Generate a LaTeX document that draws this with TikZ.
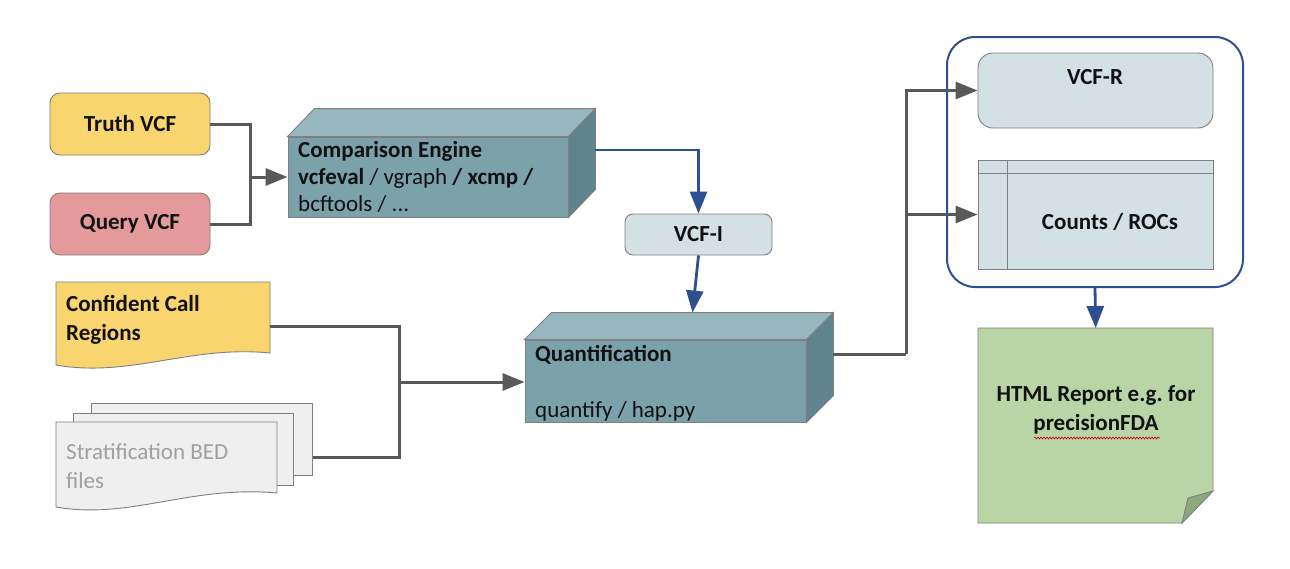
\documentclass[tikz,border=0pt]{standalone}
\usepackage{fontspec}
\setmainfont{Carlito}
\usetikzlibrary{arrows.meta,decorations.pathmorphing}
\definecolor{yel}{HTML}{F8D56F}
\definecolor{pinkq}{HTML}{E4999B}
\definecolor{tealF}{HTML}{7BA2AB}
\definecolor{tealT}{HTML}{97B7BE}
\definecolor{tealR}{HTML}{5F848C}
\definecolor{lightb}{HTML}{D3E0E4}
\definecolor{greenN}{HTML}{B9D5A6}
\definecolor{greenF}{HTML}{8CA97C}
\definecolor{gline}{HTML}{595959}
\definecolor{bline}{HTML}{2F5090}
\definecolor{bord}{HTML}{7F7F7F}
\definecolor{docgray}{HTML}{EFEFEF}
\definecolor{txtgray}{HTML}{A0A0A0}
\definecolor{txtblk}{HTML}{111111}
\begin{document}
\begin{tikzpicture}[x=1pt,y=-1pt,
  every node/.style={inner sep=0pt, text=txtblk},
  big/.style={font=\fontsize{23}{28}\selectfont},
  bigb/.style={font=\fontsize{23}{28}\selectfont\bfseries},
  rbox/.style={draw=bord, line width=0.9pt, rounded corners=10pt},
  face/.style={draw=bord, line width=0.9pt},
  gc/.style={draw=gline, line width=3pt},
  bc/.style={draw=bline, line width=2.8pt},
  gtip/.style={-{Triangle[length=22pt,width=17pt]}},
  ]
\useasboundingbox[fill=white] (0,0) rectangle (1290,568);

% inputs
\node[rbox, fill=yel, minimum width=160, minimum height=62, bigb] (truth) at (130,124) {Truth VCF};
\node[rbox, fill=pinkq, minimum width=160, minimum height=62, bigb] (query) at (130,224) {Query VCF};

% comparison engine box
\node[face, fill=tealF, minimum width=280, minimum height=80] (cmp) at (428,177) {};
\path[face, fill=tealT] (cmp.north west) -- ([shift={(27,-28)}]cmp.north west) -- ([shift={(27,-28)}]cmp.north east) -- (cmp.north east) -- cycle;
\path[face, fill=tealR] (cmp.north east) -- ([shift={(27,-28)}]cmp.north east) -- ([shift={(27,-28)}]cmp.south east) -- (cmp.south east) -- cycle;
\node[anchor=north west, align=left, font=\fontsize{23}{27}\selectfont] (cmpt) at (298,141)
  {\textbf{Comparison Engine}\\\textbf{vcfeval} / vgraph \textbf{/ xcmp /}\\bcftools / ...};
\coordinate (cmpR) at ([shift={(27,-27)}]cmp.east);

% VCF-I
\node[rbox, rounded corners=8pt, fill=lightb, minimum width=147, minimum height=41, bigb] (vcfi) at (698.5,234.5) {VCF-I};

% quantification box
\node[face, fill=tealF, minimum width=281, minimum height=82] (quant) at (665.5,381) {};
\path[face, fill=tealT] (quant.north west) -- ([shift={(27,-27)}]quant.north west) -- ([shift={(27,-27)}]quant.north east) -- (quant.north east) -- cycle;
\path[face, fill=tealR] (quant.north east) -- ([shift={(27,-27)}]quant.north east) -- ([shift={(27,-27)}]quant.south east) -- (quant.south east) -- cycle;
\node[anchor=north west, align=left, font=\fontsize{23}{28}\selectfont] (quantt) at (535,345)
  {\textbf{Quantification}\\[28pt]quantify / hap.py};
\coordinate (quantTop) at ([shift={(27,-27)}]quant.north);
\coordinate (quantR) at ([shift={(27,-27)}]quant.east);

% confident call regions (document shape)
\node[minimum width=214, minimum height=88, anchor=north west] (conf) at (56,282) {};
\path[face, fill=yel] (56,282) -- (270,282) -- (270,353) .. controls (190,345) and (130,378) .. (56,365) -- cycle;
\node[anchor=north west, align=left, font=\fontsize{23}{29}\selectfont\bfseries] (conft) at (66,295) {Confident Call\\Regions};

% stratification stack
\node[face, fill=docgray, minimum width=221, minimum height=72, anchor=north west] (sheet3) at (91,403) {};
\node[face, fill=docgray, minimum width=220, minimum height=72, anchor=north west] (sheet2) at (73,413) {};
\node[minimum width=221, minimum height=89, anchor=north west] (strat) at (56,422) {};
\path[face, fill=docgray] (56,422) -- (277,422) -- (277,493) .. controls (190,485) and (130,520) .. (56,507) -- cycle;
\node[anchor=north west, align=left, font=\fontsize{23}{29}\selectfont, text=txtgray] (stratt) at (66,443) {Stratification BED\\files};
\coordinate (stratR) at ([shift={(0,-18)}]sheet3.south east);

% output group
\node[draw=bline, line width=2pt, rounded corners=28pt, minimum width=296, minimum height=250] (outer) at (1095,162) {};
\node[rbox, rounded corners=15pt, fill=lightb, minimum width=235, minimum height=75] (vcfr) at (1095.5,90.5) {};
\node[bigb] (vcfrt) at (1095,77) {VCF-R};
\node[face, fill=lightb, minimum width=235, minimum height=109] (counts) at (1095.5,214.5) {};
\draw[face] ([shift={(0,14)}]counts.north west) -- ([shift={(0,14)}]counts.north east);
\draw[face] ([shift={(30,0)}]counts.north west) -- ([shift={(30,0)}]counts.south west);
\node[bigb] (countst) at (1110,222) {Counts / ROCs};

% HTML report note
\node[minimum width=235, minimum height=195, anchor=north west] (html) at (978,328) {};
\path[face, fill=greenN] (978,328) -- (1213,328) -- (1213,491) -- (1182,523) -- (978,523) -- cycle;
\path[face, fill=greenF] (1182,523) -- (1188,498) -- (1213,491) -- cycle;
\node[align=center, font=\fontsize{23}{29}\selectfont\bfseries] (htmlt) at (1096,410) {HTML Report e.g.\ for\\precisionFDA};
\draw[red!80!black, line width=0.6pt, decorate, decoration={snake, amplitude=1pt, segment length=3pt}] (1034,438) -- (1160,438);

% connectors
\coordinate (j0) at (250,177);
\draw[gc] (truth.east) -| (j0) |- (query.east);
\draw[gc, gtip] (j0) -- (cmp.west);

\draw[bc, gtip] (cmpR) -| (vcfi.north);
\draw[bc, gtip] (vcfi.south) -- (quantTop);

\coordinate (j1) at (399,382);
\draw[gc] (conf.east) -| (j1);
\draw[gc] (stratR) -| (j1);
\draw[gc, gtip] (j1) -- (quant.west |- j1);

\coordinate (j2) at (906,354);
\draw[gc] (quantR) -- (j2);
\draw[gc, gtip] (j2) |- (vcfr.west);
\draw[gc, gtip] (j2 |- counts.west) -- (counts.west);

\draw[bc, gtip] (outer.south) -- (html.north);
\end{tikzpicture}
\end{document}
